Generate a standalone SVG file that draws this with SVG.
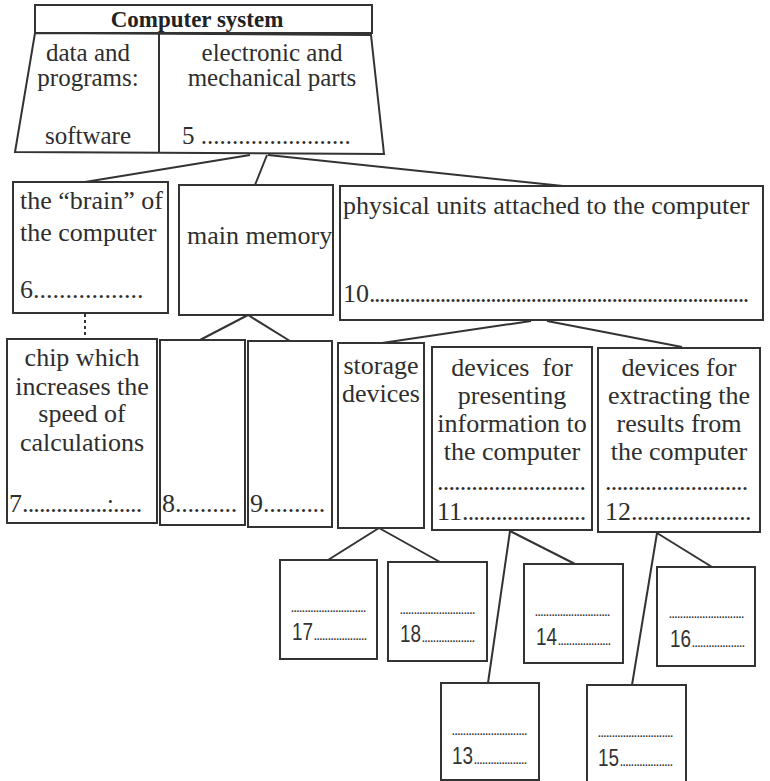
<svg xmlns="http://www.w3.org/2000/svg" width="770" height="781" viewBox="0 0 770 781">
<style>
.bx{fill:none;stroke:#333;stroke-width:2}
.ln{stroke:#333;stroke-width:2;fill:none}
.s{font-family:"Liberation Serif","Times New Roman",serif;font-size:26px;fill:#2e2e2e}
.t{font-family:"Liberation Serif","Times New Roman",serif;font-size:25px;fill:#2e2e2e}
.c{text-anchor:middle}
.h{font-family:"Liberation Serif","Times New Roman",serif;font-size:23px;font-weight:bold;fill:#222;text-anchor:middle}
.n{font-family:"Liberation Sans",Arial,sans-serif;font-size:24px;fill:#333}
.d{font-family:"Liberation Sans",Arial,sans-serif;font-size:10px;font-weight:bold;fill:#333}
</style>
<rect width="770" height="781" fill="#fff"/>
<g id="connectors">
<line class="ln" x1="250" y1="155" x2="85" y2="182"/>
<line class="ln" x1="267" y1="155" x2="255" y2="185"/>
<line class="ln" x1="268" y1="155" x2="563" y2="186"/>
<line class="ln" x1="85" y1="314" x2="85" y2="339" stroke-width="3" stroke-dasharray="3 3"/>
<line class="ln" x1="248" y1="315" x2="200" y2="340"/>
<line class="ln" x1="248" y1="315" x2="290" y2="341"/>
<line class="ln" x1="531" y1="321" x2="382" y2="343"/>
<line class="ln" x1="547" y1="321" x2="682" y2="347"/>
<line class="ln" x1="379" y1="528" x2="328" y2="560"/>
<line class="ln" x1="379" y1="528" x2="440" y2="562"/>
<line class="ln" x1="510" y1="531" x2="488" y2="683"/>
<line class="ln" x1="510" y1="531" x2="575" y2="564"/>
<line class="ln" x1="657" y1="533" x2="632" y2="685"/>
<line class="ln" x1="657" y1="533" x2="712" y2="567"/>
</g>
<g id="computer-system">
<rect class="bx" x="35" y="5" width="337" height="28"/>
<line class="ln" x1="35" y1="33" x2="372" y2="33" stroke-width="4"/>
<polygon class="bx" points="35,33 371,35 384,154 15,152"/>
<line class="ln" x1="159" y1="34" x2="159" y2="153"/>
<text class="h" x="197" y="27">Computer system</text>
<text class="t c" x="88" y="61">data and</text>
<text class="t c" x="88" y="86">programs:</text>
<text class="t c" x="88" y="144">software</text>
<text class="t c" x="272" y="61">electronic and</text>
<text class="t c" x="272" y="86">mechanical parts</text>
<text class="t" x="182" y="144">5 ........................</text>
</g>
<g id="n6">
<rect class="bx" x="13" y="182" width="155" height="131"/>
<text class="s" x="20" y="209">the “brain” of</text>
<text class="s" x="20" y="241">the computer</text>
<text class="s" x="20" y="298">6.................</text>
</g>
<g id="main-memory">
<rect class="bx" x="179" y="185" width="154" height="130"/>
<text class="s" x="187" y="244">main memory</text>
</g>
<g id="n10">
<rect class="bx" x="340" y="186" width="423" height="134"/>
<text class="s" x="343" y="214">physical units attached to the computer</text>
<text class="s" x="343" y="302">10<tspan letter-spacing="-1.45">...........................................................................</tspan></text>
</g>
<g id="n7">
<rect class="bx" x="7" y="339" width="150" height="184"/>
<text class="s c" x="82" y="366">chip which</text>
<text class="s c" x="82" y="395">increases the</text>
<text class="s c" x="82" y="422">speed of</text>
<text class="s c" x="82" y="451">calculations</text>
<text class="s" x="9" y="512">7<tspan letter-spacing="-0.85">...............:.....</tspan></text>
</g>
<g id="n8">
<rect class="bx" x="160" y="340" width="85" height="185"/>
<text class="s" x="162" y="512">8<tspan letter-spacing="-0.3">..........</tspan></text>
</g>
<g id="n9">
<rect class="bx" x="248" y="341" width="84" height="186"/>
<text class="s" x="250" y="512">9<tspan letter-spacing="-0.3">..........</tspan></text>
</g>
<g id="storage">
<rect class="bx" x="338" y="343" width="86" height="185"/>
<text class="s c" x="381" y="374">storage</text>
<text class="s c" x="381" y="402">devices</text>
</g>
<g id="n11">
<rect class="bx" x="432" y="347" width="160" height="183"/>
<text class="s c" x="512" y="376" xml:space="preserve">devices  for</text>
<text class="s c" x="512" y="404">presenting</text>
<text class="s c" x="512" y="432">information to</text>
<text class="s c" x="512" y="460">the computer</text>
<text class="s" x="437" y="490" letter-spacing="-0.8">..........................</text>
<text class="s" x="437" y="520">11<tspan letter-spacing="-0.9">......................</tspan></text>
</g>
<g id="n12">
<rect class="bx" x="598" y="348" width="162" height="184"/>
<text class="s c" x="679" y="376">devices for</text>
<text class="s c" x="679" y="404">extracting the</text>
<text class="s c" x="679" y="432">results from</text>
<text class="s c" x="679" y="460">the computer</text>
<text class="s" x="605" y="490" letter-spacing="-0.8">.........................</text>
<text class="s" x="605" y="520">12<tspan letter-spacing="-0.8">.....................</tspan></text>
</g>
<g id="n17">
<rect class="bx" x="280" y="560" width="97" height="99"/>
<text class="d" x="291" y="612">...........................</text>
<text class="n" x="292" y="640" textLength="21" lengthAdjust="spacingAndGlyphs">17</text>
<text class="d" x="314" y="640">...................</text>
</g>
<g id="n18">
<rect class="bx" x="388" y="562" width="99" height="99"/>
<text class="d" x="400" y="614">...........................</text>
<text class="n" x="400" y="642" textLength="21" lengthAdjust="spacingAndGlyphs">18</text>
<text class="d" x="422" y="642">...................</text>
</g>
<g id="n14">
<rect class="bx" x="524" y="564" width="99" height="99"/>
<text class="d" x="535" y="616">...........................</text>
<text class="n" x="536" y="645" textLength="21" lengthAdjust="spacingAndGlyphs">14</text>
<text class="d" x="558" y="645">...................</text>
</g>
<g id="n16">
<rect class="bx" x="657" y="567" width="98" height="99"/>
<text class="d" x="669" y="618">...........................</text>
<text class="n" x="670" y="647" textLength="21" lengthAdjust="spacingAndGlyphs">16</text>
<text class="d" x="692" y="647">...................</text>
</g>
<g id="n13">
<rect class="bx" x="441" y="683" width="98" height="97"/>
<text class="d" x="452" y="735">...........................</text>
<text class="n" x="452" y="764" textLength="21" lengthAdjust="spacingAndGlyphs">13</text>
<text class="d" x="474" y="764">...................</text>
</g>
<g id="n15">
<rect class="bx" x="587" y="685" width="99" height="97"/>
<text class="d" x="598" y="737">...........................</text>
<text class="n" x="598" y="766" textLength="21" lengthAdjust="spacingAndGlyphs">15</text>
<text class="d" x="620" y="766">...................</text>
</g>
</svg>
